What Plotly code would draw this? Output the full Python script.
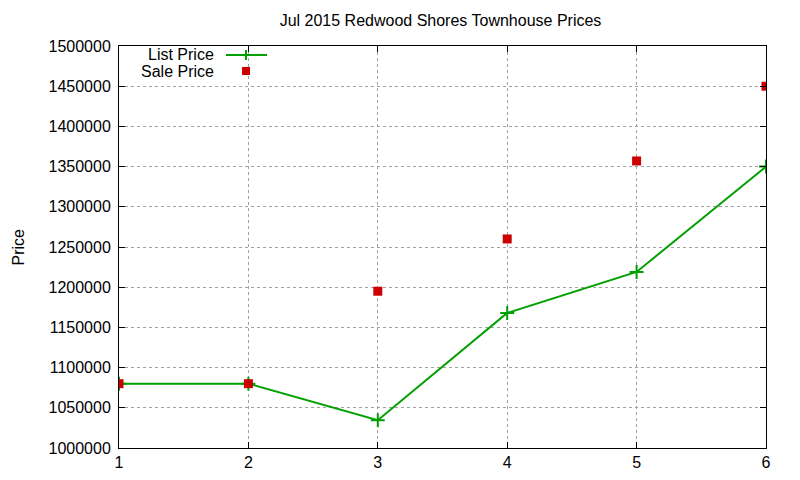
import plotly.graph_objects as go

months = [1, 2, 3, 4, 5, 6]
list_price = [1080000, 1080000, 1034500, 1168000, 1219000, 1350000]
sale_price = [1080000, 1080000, 1195000, 1260000, 1357000, 1450000]
y_ticks = [1000000, 1050000, 1100000, 1150000, 1200000, 1250000, 1300000, 1350000, 1400000, 1450000, 1500000]

GREEN = "#00a000"
RED = "#cc0000"
FONT = "Liberation Sans, Arial, sans-serif"

OFF = 8  # default page margin of the figure inside the browser
W, H = 800, 480
L, R, T, B = 119, 766, 46, 448  # target plot area in screenshot pixels
PW, PH = R - L, B - T

fig = go.Figure()
fig.add_trace(go.Scatter(x=months, y=list_price, mode="lines+markers", name="List Price",
                         line=dict(color=GREEN, width=2),
                         marker=dict(symbol="cross-thin", size=10, line=dict(color=GREEN, width=2)),
                         showlegend=False))
fig.add_trace(go.Scatter(x=months, y=sale_price, mode="markers", name="Sale Price",
                         marker=dict(symbol="square", size=9, color=RED),
                         showlegend=False))

axis_common = dict(showline=True, linecolor="black", linewidth=1, mirror="allticks",
                   ticks="inside", ticklen=6, tickcolor="black", tickwidth=1,
                   showgrid=True, gridcolor="#a0a0a0", gridwidth=1, griddash="3px,3px",
                   zeroline=False, tickfont=dict(family=FONT, size=16, color="black"))

fig.update_xaxes(range=[1, 6], tickvals=months, ticktext=[str(m) for m in months], **axis_common)
fig.update_yaxes(range=[1000000, 1500000], tickvals=y_ticks, ticktext=[str(v) for v in y_ticks],
                 ticklabelstandoff=4, **axis_common)


def px_x(p):
    return (p - L) / PW


def px_y(p):
    return 1 - (p - T) / PH


# Custom gnuplot-style legend (text right-aligned, sample on the right)
fig.add_annotation(xref="paper", yref="paper", x=px_x(216), y=px_y(55),
                   text="List Price", showarrow=False, xanchor="right", yanchor="middle",
                   font=dict(family=FONT, size=16, color="black"))
fig.add_annotation(xref="paper", yref="paper", x=px_x(216), y=px_y(71),
                   text="Sale Price", showarrow=False, xanchor="right", yanchor="middle",
                   font=dict(family=FONT, size=16, color="black"))

fig.add_shape(type="line", xref="paper", yref="paper", x0=px_x(226), x1=px_x(267), y0=px_y(55), y1=px_y(55),
              line=dict(color=GREEN, width=2))
fig.add_shape(type="line", xref="paper", yref="paper", x0=px_x(246), x1=px_x(246), y0=px_y(50), y1=px_y(60),
              line=dict(color=GREEN, width=2))
fig.add_shape(type="rect", xref="paper", yref="paper", x0=px_x(242), x1=px_x(250), y0=px_y(67), y1=px_y(75),
              fillcolor=RED, line=dict(width=0))

# Y-axis title, kept fully inside the figure area
fig.add_annotation(xref="paper", yref="paper", x=px_x(OFF), y=0.5, text="Price", textangle=-90,
                   showarrow=False, xanchor="left", yanchor="middle", borderpad=0,
                   font=dict(family=FONT, size=16, color="black"))

fig.update_layout(
    width=W, height=H,
    paper_bgcolor="white", plot_bgcolor="white",
    margin=dict(l=L - OFF, r=W - (R - OFF), t=T - OFF, b=H - (B - OFF), pad=0),
    title=dict(text="Jul 2015 Redwood Shores Townhouse Prices", x=((280 + 601) / 2 - OFF) / W, xanchor="center",
               y=1 - (20 - OFF) / H, yanchor="middle", font=dict(family=FONT, size=16, color="black")),
)

fig.write_html("out.html", config={"displayModeBar": False})
